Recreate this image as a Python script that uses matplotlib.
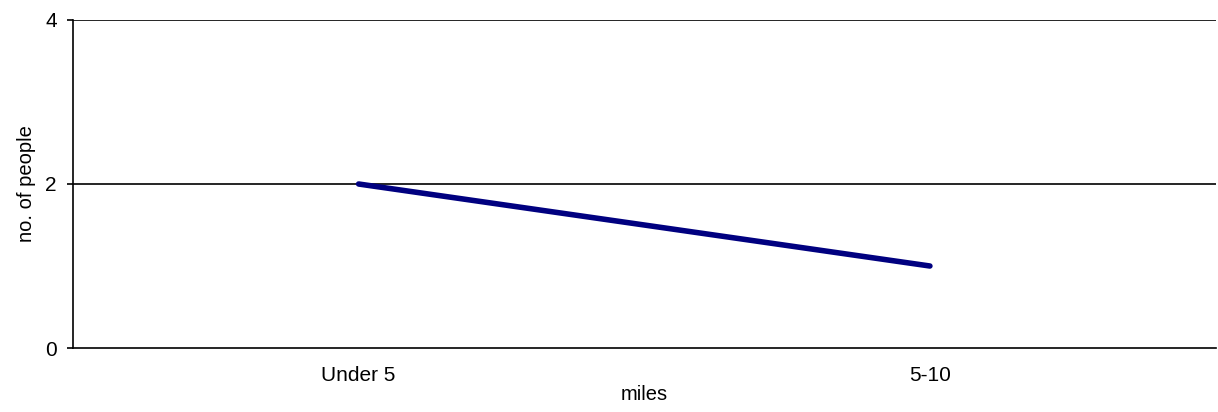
import matplotlib
matplotlib.use("Agg")
import matplotlib.pyplot as plt

categories = ["Under 5", "5-10"]
people = [2, 1]
y_ticks = [0, 2, 4]

plt.rcParams['font.family'] = ['Liberation Sans', 'DejaVu Sans']

fig = plt.figure(figsize=(12.18, 4.12), dpi=100)
ax = fig.add_axes([0.0599, 0.1553, 0.9381, 0.7962])

x = list(range(len(categories)))
ax.plot(x, people, color='#000080', linewidth=4.0, solid_capstyle='round', zorder=3)

ax.set_xlim(-0.5, 1.5)
ax.set_ylim(0, 4)
ax.set_xticks(x)
ax.set_xticklabels(categories)
ax.set_yticks(y_ticks)

for yv in y_ticks[1:]:
    ax.axhline(yv, color='black', linewidth=1.2, zorder=1)

ax.spines['right'].set_visible(False)
ax.spines['top'].set_visible(False)
ax.spines['left'].set_linewidth(1.2)
ax.spines['bottom'].set_linewidth(1.2)

ax.tick_params(axis='x', length=0, pad=13, labelsize=15)
ax.tick_params(axis='y', length=4.5, width=1.2, pad=7, labelsize=15)

ax.set_xlabel('miles', fontsize=14.5, labelpad=0)
ax.set_ylabel('no. of people', fontsize=14.5, labelpad=7)

fig.savefig('out.png', dpi=100)
